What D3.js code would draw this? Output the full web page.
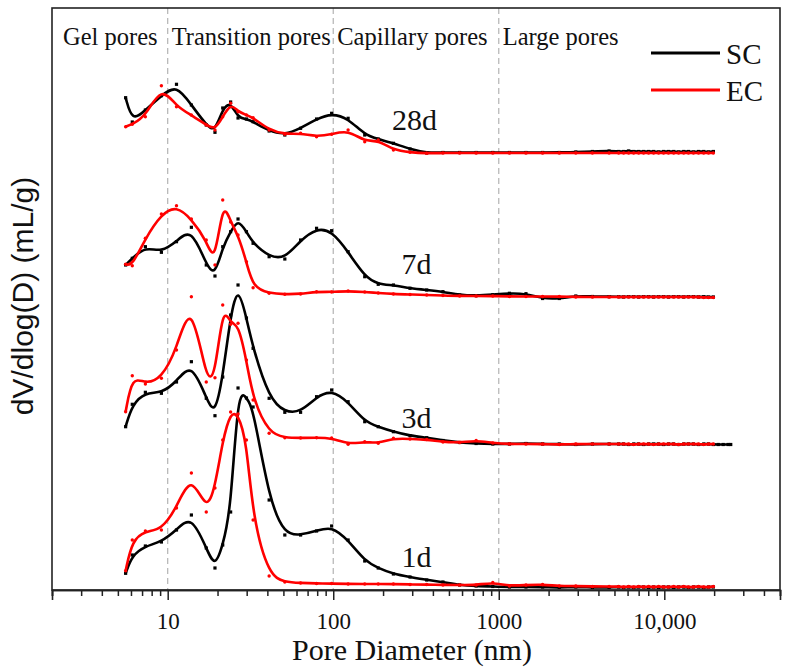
<!DOCTYPE html>
<html><head><meta charset="utf-8">
<script src="https://cdn.jsdelivr.net/npm/d3@7"></script>
<style>body{margin:0;background:#fff}</style>
</head><body>
<svg id="c" width="790" height="667"></svg>
<script>
// ---------- DATA ----------
const mainDiameter = [5.57,6.11,7.33,9.16,11.3,13.9,17.1,19.3,21.5,24.0,26.6,29.9,32.8,41.0,51.0,63.5,79.3,97.8,123,155,187,231,291,367];
const tailDiameter = [460,580,730,920,1160,1460,1840,2320,2920,3680,4640];
const denseDiameter = [5300,5680,6090,6530,7000,7500,8040,8620,9240,9900,10600,11400,12200,13100,14000,15000,16100,17300,18500,19800];
const extDiameter = [21200,22700,24300,25200];

const ages = ["1d","3d","7d","28d"];
const ageOffset = [0,143,290,434];
const ageLabelLevel = [23,162,316,460];

const sc1d = [16.7,35,44,48,60,75,42,22,45,78,202,192,183,90,55,55,59,64,50,29,22,16,13,10,
  8,5,4,3.5,3,3,3,2.5,3,2.5,2.5,
  3,2.5,3,2.5,3,3,2.5,3,2.5,3,3,2.5,3,3,2.5,3,3,2.5,3,3];
const ec1d = [19.3,50,59,60,82,117,78,102,150,178,176,150,70,14,8,7,6.5,6.5,6,6,6,6,5.5,5.5,
  5,5,5,7.5,4,5,5.5,4,4,3.5,3.5,
  3.5,3,3.5,3,3.5,3,3.5,3,3.5,3,3,3.5,3,3.5,3,3,3.5,3,3,3.5];
const sc3d = [20.3,42.7,54.7,53.7,65,85.3,48.7,31.3,70,132,162,129,98.7,48.7,34.7,34.7,50.3,57,45.3,25.3,20.3,15.3,11.3,9.3,
  6.5,4.5,3.5,3,3,3.5,3,3,2.5,3,3,
  3,3,2.5,3,3,2.5,3,3,3,2.5,3,3,2.5,3,3,3,2.5,3,3,2.5,
  2.5,2.5,2.5,2.5];
const ec3d = [35.3,71.3,63,68.7,97,150.3,65,69.3,142,122.7,123.7,87,47,13.7,9.3,9,9.3,9,2.7,5.3,3.7,8.7,8,7.5,
  5,4.5,6.5,4,3,3,3,2.5,3,3,3,
  3,3,3,2.5,3,3,3,2.5,3,3,3,3,2.5,3,3,3,3,2.5,3,3];
const sc7d = [35,41.7,53.3,47.7,58.3,72.7,35,24,53.3,68.3,81,68.3,56.7,43.3,41,60,71.7,69.3,48.3,23.3,15.7,15,11.7,10,
  8.3,5,4.3,5.3,6.7,6.3,1.5,1.5,4,3.5,3.3,
  3.3,3,3.3,3.3,3,3.3,3.3,3,3.3,3.3,3,3.3,3.3,3,3.3,3.3,3,3.3,3,3];
const ec7d = [35.7,34.3,61.7,86,94.3,81,60,35,100,78,65,38.3,12.3,6.7,5.7,6,8.3,8,9,8,7,6,5.5,5,
  4.5,4,4,4,3.5,3.5,3.5,3.5,3,3,3,
  3,3,3,3,3,3,3,3,3,3,3,3,3,3,3,3,3,2.5,2.5,2.5];
const sc28d = [58.3,34,46,60.3,71.7,51,31,23.7,48,54,38,37,34.3,25,21,27.7,37,42.7,37.7,21,17,12.7,7,3,
  3.5,3.5,3.5,3.5,3.5,3.5,3.5,3.5,4,4.5,5,
  4.5,4.5,5,4.5,4.5,4.5,4.5,4.5,4,4.5,4.5,4.5,4,4.5,4.5,4,4.5,4.5,4,4.5];
const ec28d = [29.3,31.7,39.3,70.3,49.3,41,31,26,39.3,52.7,44.3,41,38.3,26,21.7,22.7,19.3,21.7,26,14.3,16,6,3.7,2.7,
  3,3,3,3,3,3,3,3,3,3,3,
  3,3,3,3,3,3,3,3,3,3,3,3,3,3,3,3,3,3,3,3];

const regionNames = ["Gel pores","Transition pores","Capillary pores","Large pores"];
const regionBounds = [10,100,1000];
const majorTicks = [10,100,1000,10000];
const tickLabels = ["10","100","1000","10,000"];
const seriesNames = ["SC","EC"];
const seriesColors = ["#000000","#ff0000"];

// ---------- CHART ----------
const svg = d3.select("#c");
const L = 52, T = 8, R = 780, B = 590;
const x = d3.scaleLog().domain([2,50000]).range([L,R]);
const y = d3.scaleLinear().domain([0,582]).range([B,T]);
const serif = "'Liberation Serif','Times New Roman',serif";

// dashed region lines
svg.append("g").selectAll("line").data(regionBounds).join("line")
  .attr("x1",d=>x(d)).attr("x2",d=>x(d)).attr("y1",T).attr("y2",B)
  .attr("stroke","#b3b3b3").attr("stroke-width",1.2).attr("stroke-dasharray","6,4");

// region names
const regionStarts = [2].concat(regionBounds);
svg.append("g").selectAll("text").data(regionNames).join("text")
  .attr("x",(d,i)=> i===0 ? x(regionStarts[i])+11 : x(regionStarts[i])+4)
  .attr("y",45).attr("font-family",serif).attr("font-size",24.5).attr("fill","#111")
  .text(d=>d);

const diam = mainDiameter.concat(tailDiameter, denseDiameter);
const diamExt = diam.concat(extDiameter);
const groups = [
  {sc:sc1d, ec:ec1d},{sc:sc3d, ec:ec3d},{sc:sc7d, ec:ec7d},{sc:sc28d, ec:ec28d}
];
const line = d3.line().x(p=>x(p.d)).y(p=>y(p.v)).curve(d3.curveBasis);

groups.forEach((g,gi)=>{
  const off = ageOffset[gi];
  [g.sc, g.ec].forEach((vals, si)=>{
    const ds = vals.length > diam.length ? diamExt : diam;
    const pts = vals.map((v,i)=>({d:ds[i], v:v+off}));
    const col = seriesColors[si];
    svg.append("path").datum(pts).attr("d",line)
      .attr("fill","none").attr("stroke",col).attr("stroke-width",2.6)
      .attr("stroke-linejoin","round");
    if (si===0) {
      svg.append("g").selectAll("rect").data(pts).join("rect")
        .attr("x",p=>x(p.d)-1.6).attr("y",p=>y(p.v)-1.6)
        .attr("width",3.2).attr("height",3.2).attr("fill",col);
    } else {
      svg.append("g").selectAll("circle").data(pts).join("circle")
        .attr("cx",p=>x(p.d)).attr("cy",p=>y(p.v)).attr("r",1.7).attr("fill",col);
    }
  });
});

// age labels
svg.append("g").selectAll("text").data(ages).join("text")
  .attr("x",(d,i)=> i===3 ? x(230)-1 : x(262)-1)
  .attr("y",(d,i)=>y(ageLabelLevel[i]))
  .attr("font-family",serif).attr("font-size",30).attr("fill","#111").text(d=>d);

// frame
svg.append("rect").attr("x",L).attr("y",T).attr("width",R-L).attr("height",B-T)
  .attr("fill","none").attr("stroke","#222").attr("stroke-width",1.6);

// x axis
const minor = [];
[1,10,100,1000,10000].forEach(dec=>{ for(let k=2;k<=9;k++){ const v=k*dec; if(v>=2 && v<=50000) minor.push(v);} });
const axMinor = d3.axisBottom(x).tickValues(minor).tickSize(6).tickFormat("");
const axMajor = d3.axisBottom(x).tickValues(majorTicks).tickSize(10)
  .tickFormat((d,i)=>tickLabels[i]).tickPadding(13);
const gm = svg.append("g").attr("transform",`translate(0,${B})`).call(axMinor);
const gM = svg.append("g").attr("transform",`translate(0,${B})`).call(axMajor);
[gm,gM].forEach(g=>{
  g.select(".domain").attr("stroke","#222").attr("stroke-width",1.6);
  g.selectAll(".tick line").attr("stroke","#222").attr("stroke-width",1.5);
});
gM.selectAll(".tick text").attr("font-family",serif).attr("font-size",23).attr("fill","#111");

// axis titles
svg.append("text").attr("x",412).attr("y",660).attr("text-anchor","middle")
  .attr("font-family",serif).attr("font-size",30).attr("fill","#111").text("Pore Diameter (nm)");
svg.append("text").attr("transform","translate(33,296) rotate(-90)").attr("text-anchor","middle")
  .attr("font-family","'Liberation Sans',Arial,sans-serif").attr("font-size",30).attr("fill","#111")
  .text("dV/dlog(D) (mL/g)");

// legend
const leg = svg.append("g");
seriesNames.forEach((n,i)=>{
  const ly = 53 + i*37;
  leg.append("line").attr("x1",651).attr("x2",720).attr("y1",ly).attr("y2",ly)
    .attr("stroke",seriesColors[i]).attr("stroke-width",2.8);
  leg.append("text").attr("x",726).attr("y",ly+10.5).attr("font-family",serif)
    .attr("font-size",29).attr("fill","#111").text(n);
});
</script>
</body></html>
